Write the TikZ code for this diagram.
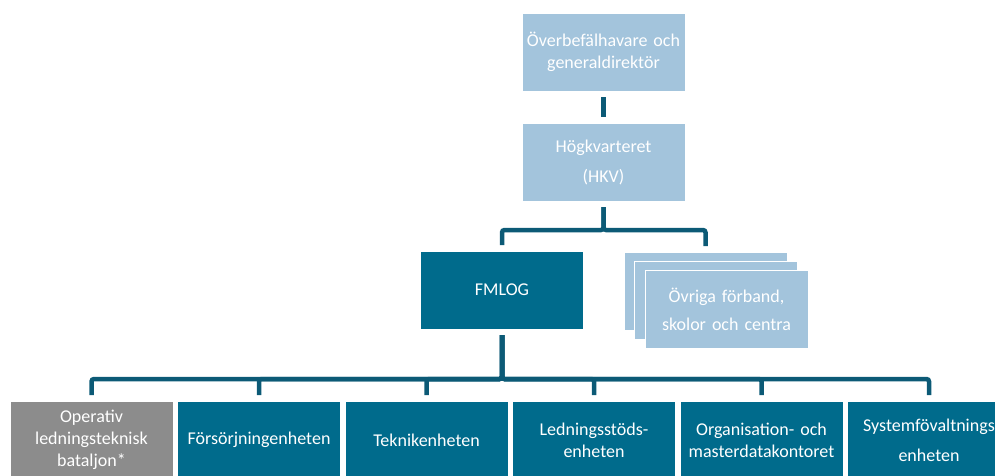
\documentclass[tikz,border=0pt]{standalone}
\usepackage{fontspec}
\setmainfont{Carlito}
\definecolor{hqBlue}{HTML}{A3C4DC}
\definecolor{unitBlue}{HTML}{006B8C}
\definecolor{lineBlue}{HTML}{0C5A76}
\definecolor{batGrey}{HTML}{8C8C8C}
\tikzstyle{orgBox} = [rectangle, draw=white, line width=1pt, outer sep=0pt,
   minimum width=163pt, minimum height=78pt, inner sep=2pt, text width=159pt,
   align=center, text=white, font=\fontsize{18}{22}\selectfont]
\tikzstyle{lightBox} = [orgBox, fill=hqBlue]
\tikzstyle{darkBox} = [orgBox, fill=unitBlue]
\tikzstyle{greyBox} = [orgBox, fill=batGrey]
\tikzstyle{orgLine} = [lineBlue, line width=4.5pt, rounded corners=2.5pt,
   shorten <=6pt, shorten >=6pt]

\begin{document}
\begin{tikzpicture}[x=1pt, y=1pt, node distance=167.5pt]
  \useasboundingbox (0,0) rectangle (995,-475);
  			\node[lightBox] (a) at (603.5,-52) {Överbefälhavare och\\generaldirektör};
  			\node[lightBox, below of=a, node distance=110pt] (b) {Högkvarteret\\[8pt](HKV)};
  			\node[darkBox] (c) at (502,-290) {FMLOG};

  			% stacked boxes, back to front
  			\node[lightBox] (d1) at (705.5,-291) {};
  			\node[lightBox] (d2) at ([shift={(10pt,-9pt)}]d1) {};
  			\node[lightBox] (d) at ([shift={(11pt,-9pt)}]d2) {Övriga förband,\\[6pt]skolor och centra};

  			% units below FMLOG
  			\node[greyBox] (u1) at (91.5,-440) {Operativ\\ledningsteknisk\\bataljon*};
  			\node[darkBox, right of=u1] (u2) {Försörjningenheten};
  			\node[darkBox, right of=u2] (u3) {Teknikenheten};
  			\node[darkBox, right of=u3] (u4) {Ledningsstöds-\\enheten};
  			\node[darkBox, right of=u4] (u5) {Organisation- och\\masterdatakontoret};
  			\node[darkBox, right of=u5] (u6) {Systemfövaltnings\\[8pt]enheten};

  			% connectors
  			\draw[orgLine] (a) -- (b);
  			\draw[orgLine] (b.south) -- ++(0,-29pt) -| (c.north);
  			\draw[orgLine] (b.south) -- ++(0,-29pt) -| (d1.north);
  			\foreach \u in {u1,u2,u3,u4,u5,u6}
  				\draw[orgLine] (c.south) -- ++(0,-50pt) -| (\u.north);
\end{tikzpicture}
\end{document}
